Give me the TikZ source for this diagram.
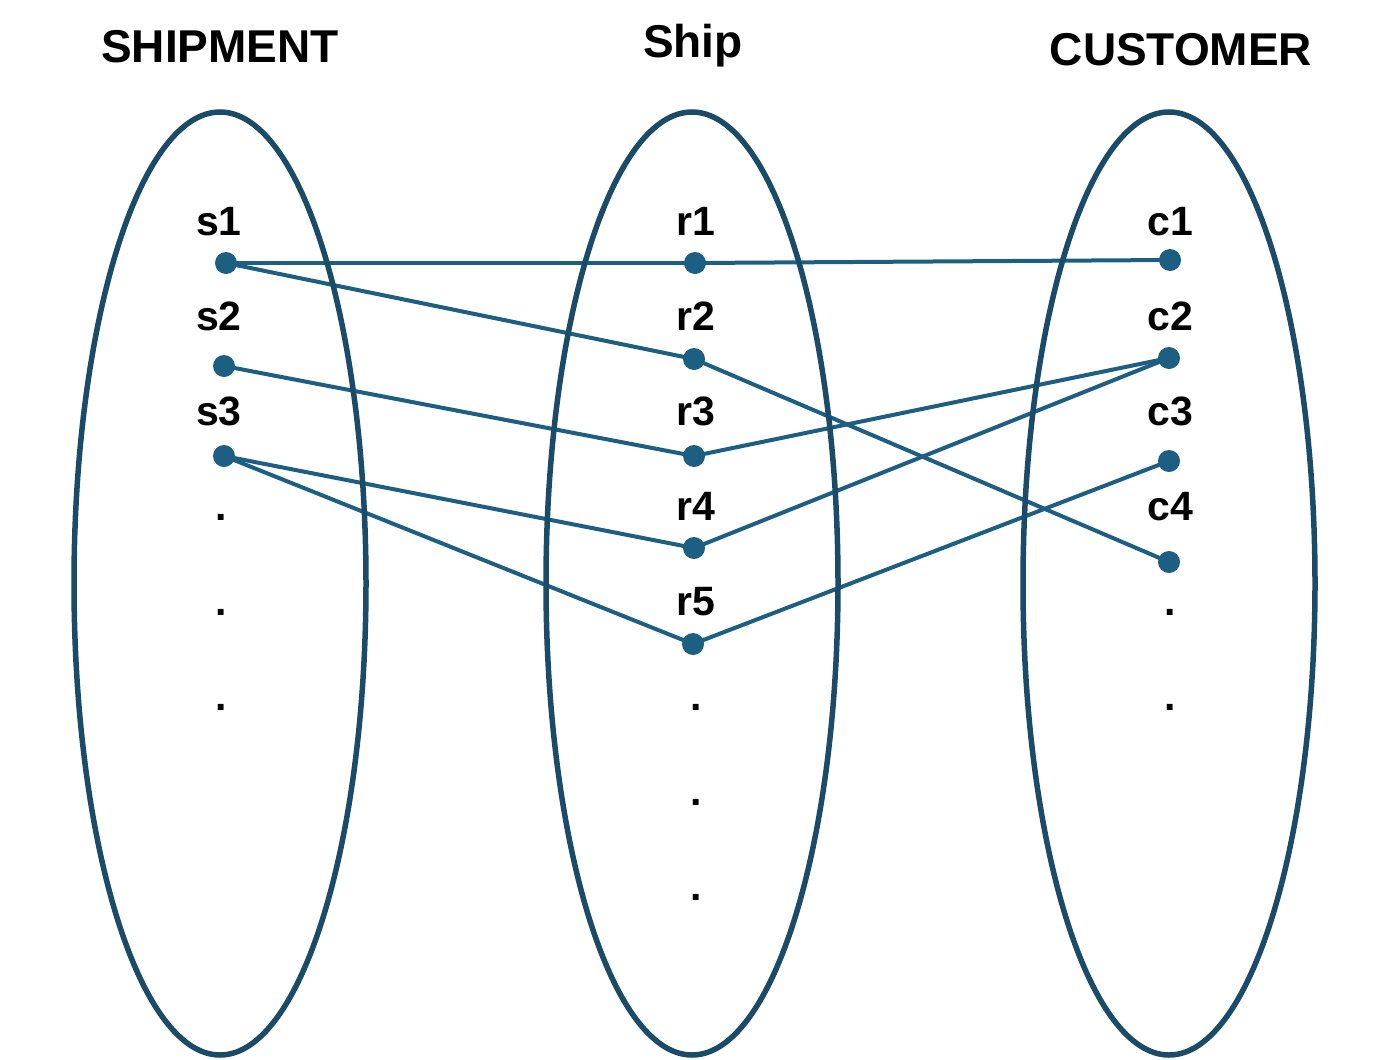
\documentclass[tikz,border=0pt]{standalone}
\usepackage{fontspec}
\setmainfont{Liberation Sans}
\usetikzlibrary{backgrounds}
\definecolor{ellcol}{HTML}{1A4B68}
\definecolor{linecol}{HTML}{1D5E83}
\begin{document}
\begin{tikzpicture}[x=1pt,y=-1pt,
  setell/.style={draw=ellcol,line width=5.5pt},
  dotnode/.style={circle,fill=linecol,inner sep=0pt,minimum size=22pt},
  lbl/.style={anchor=base,inner sep=0pt,font=\fontsize{41}{41}\selectfont\bfseries},
  ttl/.style={anchor=base,inner sep=0pt,font=\fontsize{46}{46}\selectfont\bfseries},
  link/.style={draw=linecol,line width=4pt}]
\useasboundingbox (0,0) rectangle (1400,1060);
% ellipses
\draw[setell] (220,583.5) ellipse [x radius=146, y radius=471.5];
\draw[setell] (692,583.5) ellipse [x radius=146, y radius=471.5];
\draw[setell] (1169,583.5) ellipse [x radius=146, y radius=471.5];
% titles
\node[ttl] (t1) at (220,62) {SHIPMENT};
\node[ttl] (t2) at (693,57) {Ship};
\node[ttl] (t3) at (1181,65) {CUSTOMER};
% labels
\node[lbl] (ls1) at (219,235) {s1};
\node[lbl] (ls2) at (219,330) {s2};
\node[lbl] (ls3) at (219,425) {s3};
\node[lbl] (lsd1) at (221,520) {.};
\node[lbl] (lsd2) at (221,615) {.};
\node[lbl] (lsd3) at (221,710) {.};
\node[lbl] (lr1) at (696,235) {r1};
\node[lbl] (lr2) at (696,330) {r2};
\node[lbl] (lr3) at (696,425) {r3};
\node[lbl] (lr4) at (696,520) {r4};
\node[lbl] (lr5) at (696,615) {r5};
\node[lbl] (lrd1) at (696,710) {.};
\node[lbl] (lrd2) at (696,805) {.};
\node[lbl] (lrd3) at (696,900) {.};
\node[lbl] (lc1) at (1170,235) {c1};
\node[lbl] (lc2) at (1170,330) {c2};
\node[lbl] (lc3) at (1170,425) {c3};
\node[lbl] (lc4) at (1170,520) {c4};
\node[lbl] (lcd1) at (1170,615) {.};
\node[lbl] (lcd2) at (1170,710) {.};
% dots
\node[dotnode] (s1) at (226,263) {};
\node[dotnode] (s2) at (224,366) {};
\node[dotnode] (s3) at (224,456) {};
\node[dotnode] (r1) at (695,263) {};
\node[dotnode] (r2) at (694,359) {};
\node[dotnode] (r3) at (694,456) {};
\node[dotnode] (r4) at (694,548) {};
\node[dotnode] (r5) at (693,644) {};
\node[dotnode] (c1) at (1170,260) {};
\node[dotnode] (c2) at (1169,358) {};
\node[dotnode] (c3) at (1169,461) {};
\node[dotnode] (c4) at (1169,562) {};
% links
\begin{scope}[on background layer]
\draw[link] (s1.center) -- (r1.center);
\draw[link] (r1.center) -- (c1.center);
\draw[link] (s1.center) -- (r2.center);
\draw[link] (r2.center) -- (c4.center);
\draw[link] (s2.center) -- (r3.center);
\draw[link] (r3.center) -- (c2.center);
\draw[link] (s3.center) -- (r4.center);
\draw[link] (r4.center) -- (c2.center);
\draw[link] (s3.center) -- (r5.center);
\draw[link] (r5.center) -- (c3.center);
\end{scope}
\end{tikzpicture}
\end{document}
